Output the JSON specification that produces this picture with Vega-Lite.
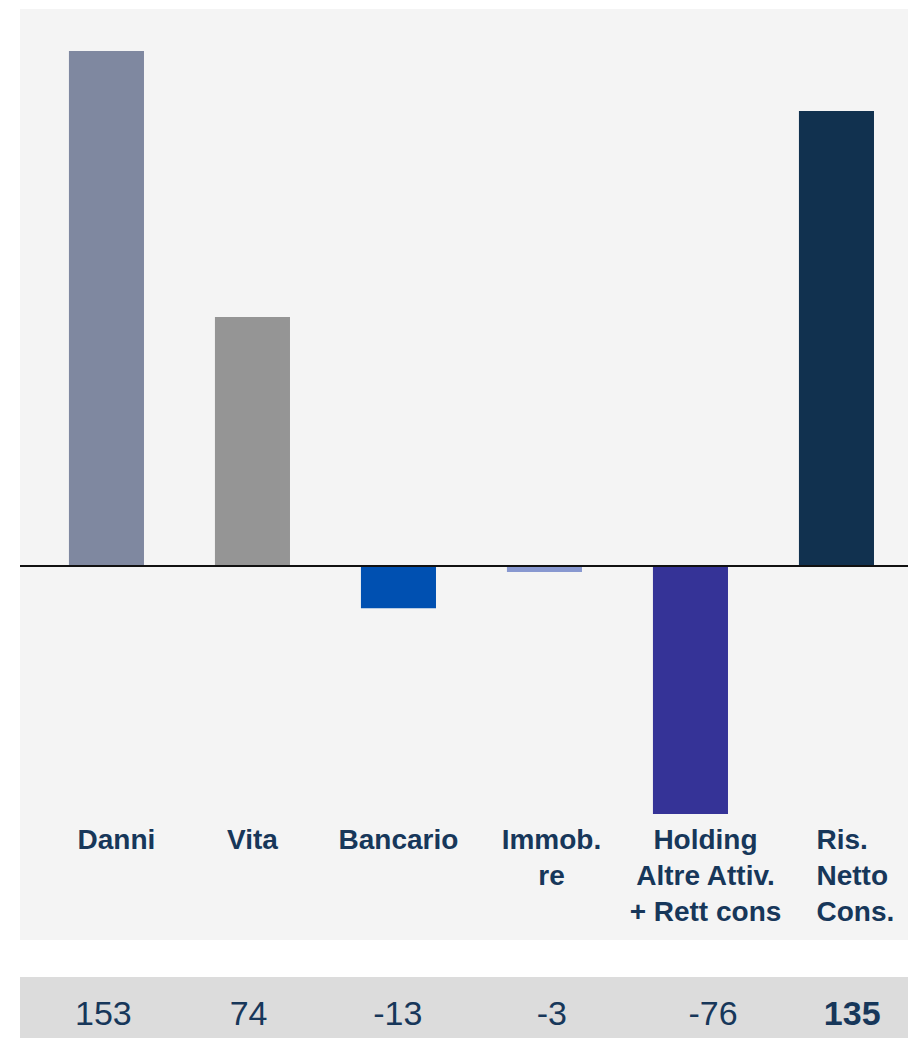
{
  "$schema": "https://vega.github.io/schema/vega-lite/v6.json",
  "background": "white",
  "padding": {"left": 19, "top": 9, "right": 0, "bottom": 0},
  "spacing": 37,
  "config": {"view": {"stroke": null}},
  "datasets": {
    "rows": [
      {"cat": "Danni", "value": 153, "label": "153"},
      {"cat": "Vita", "value": 74, "label": "74"},
      {"cat": "Bancario", "value": -12.5, "label": "-13"},
      {"cat": "Immob.|re", "value": -1.8, "label": "-3"},
      {"cat": "Holding|Altre Attiv.|+ Rett cons", "value": -73.7, "label": "-76"},
      {"cat": "Ris.|Netto|Cons.", "value": 135.2, "label": "135"}
    ]
  },
  "vconcat": [
    {
      "width": 889,
      "height": 931,
      "view": {"fill": "#f4f4f4", "stroke": null},
      "data": {"name": "rows"},
      "layer": [
        {
          "mark": {"type": "bar"},
          "encoding": {
            "x": {
              "field": "cat", "type": "nominal", "sort": null,
              "scale": {"paddingInner": 0.486, "paddingOuter": 0.2875, "align": 0.583},
              "axis": {
                "orient": "bottom", "offset": -114, "title": null,
                "domain": false, "ticks": false, "grid": false,
                "labelAngle": 0, "labelPadding": 0, "labelLimit": 0,
                "labelExpr": "split(datum.value, '|')",
                "labelFont": "Liberation Sans", "labelFontSize": 28, "labelFontWeight": "bold",
                "labelColor": "#17375a", "labelLineHeight": 36, "labelBaseline": "top",
                "labelAlign": {"condition": {"test": "indexof(datum.value, 'Ris.') == 0", "value": "left"}, "value": "center"},
                "labelOffset": {"condition": [
                  {"test": "indexof(datum.value, 'Ris.') == 0", "value": -20},
                  {"test": "indexof(datum.value, 'Holding') == 0", "value": 15},
                  {"test": "indexof(datum.value, 'Immob') == 0", "value": 7},
                  {"test": "datum.value == 'Danni'", "value": 10}
                ], "value": 0}
              }
            },
            "y": {
              "field": "value", "type": "quantitative",
              "scale": {"domain": [-111.1, 165.5], "nice": false, "zero": false},
              "axis": null
            },
            "color": {
              "field": "cat", "type": "nominal", "sort": null, "legend": null,
              "scale": {
                "domain": ["Danni", "Vita", "Bancario", "Immob.|re", "Holding|Altre Attiv.|+ Rett cons", "Ris.|Netto|Cons."],
                "range": ["#7f88a0", "#959595", "#0050b1", "#8898d0", "#353397", "#11314f"]
              }
            }
          }
        },
        {
          "data": {"values": [{"zero": 0}]},
          "mark": {"type": "rule", "color": "#111111", "strokeWidth": 2},
          "encoding": {
            "y": {"field": "zero", "type": "quantitative"}
          }
        }
      ]
    },
    {
      "width": 889,
      "height": 61,
      "view": {"fill": "#dcdcdc", "stroke": null},
      "data": {"name": "rows"},
      "layer": [
        {
          "transform": [{"filter": "datum.label != '135'"}],
          "mark": {
            "type": "text", "font": "Liberation Sans", "fontSize": 34, "color": "#17375a",
            "baseline": "alphabetic", "dy": 17.5,
            "dx": {"expr": "datum.label == '-76' ? 14 : (datum.label == '74' ? -6 : (datum.label == '-3' ? 1 : (datum.label == '-13' ? -5 : -3)))"}
          },
          "encoding": {
            "x": {
              "field": "cat", "type": "nominal", "sort": null,
              "scale": {"domain": ["Danni", "Vita", "Bancario", "Immob.|re", "Holding|Altre Attiv.|+ Rett cons", "Ris.|Netto|Cons."], "paddingInner": 0.486, "paddingOuter": 0.2875, "align": 0.583},
              "axis": null
            },
            "text": {"field": "label"}
          }
        },
        {
          "transform": [{"filter": "datum.label == '135'"}],
          "mark": {
            "type": "text", "font": "Liberation Sans", "fontSize": 34, "fontWeight": "bold", "color": "#17375a",
            "baseline": "alphabetic", "dy": 17.5, "dx": 5
          },
          "encoding": {
            "x": {
              "field": "cat", "type": "nominal", "sort": null,
              "scale": {"domain": ["Danni", "Vita", "Bancario", "Immob.|re", "Holding|Altre Attiv.|+ Rett cons", "Ris.|Netto|Cons."], "paddingInner": 0.486, "paddingOuter": 0.2875, "align": 0.583},
              "axis": null
            },
            "text": {"field": "label"}
          }
        }
      ]
    }
  ]
}
